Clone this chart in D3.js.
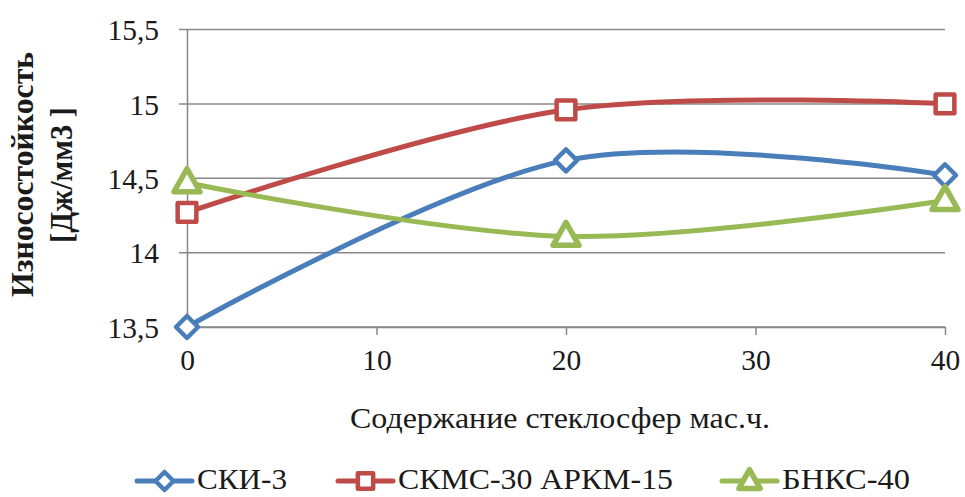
<!DOCTYPE html>
<html>
<head>
<meta charset="utf-8">
<script src="https://cdn.jsdelivr.net/npm/d3@7"></script>
<style>
  html, body { margin: 0; padding: 0; background: #fff; }
  svg { display: block; }
  svg text { font-family: 'Liberation Serif', 'Times New Roman', Times, serif; }
</style>
</head>
<body>
<svg id="chart" width="965" height="497"></svg>
<script>
// Wear resistance vs. glass microsphere content
const xValues = [0, 20, 40];
const seriesNames = ["СКИ-3", "СКМС-30 АРКМ-15", "БНКС-40"];
const seriesSki3 = [13.5, 14.62, 14.52];
const seriesSkms30 = [14.27, 14.96, 15.0];
const seriesBnks40 = [14.47, 14.11, 14.35];
const xTicks = [0, 10, 20, 30, 40];
const yTicks = [13.5, 14, 14.5, 15, 15.5];
const xTitle = "Содержание стеклосфер мас.ч.";
const yTitleLines = ["Износостойкость", "[Дж/мм3 ]"];

const colors = ["#4a7ebb", "#be4b48", "#98b954"];
const markerTypes = ["diamond", "square", "triangle"];
const allSeries = [seriesSki3, seriesSkms30, seriesBnks40];

const svg = d3.select("#chart");
const plot = { left: 187, right: 945, top: 29.5, bottom: 327 };
const serif = "'Liberation Serif', 'Times New Roman', Times, serif";

const x = d3.scaleLinear().domain([0, 40]).range([plot.left, plot.right]);
const y = d3.scaleLinear().domain([13.5, 15.5]).range([plot.bottom, plot.top]);

const gridColor = "#888888";
const textColor = "#1a1a1a";

// horizontal gridlines (with short tick stubs to the left of the axis)
svg.append("g")
  .selectAll("line")
  .data(yTicks)
  .join("line")
  .attr("x1", plot.left - 8)
  .attr("x2", plot.right)
  .attr("y1", d => y(d))
  .attr("y2", d => y(d))
  .attr("stroke", gridColor)
  .attr("stroke-width", 1.5);

// y axis
const yAxis = d3.axisLeft(y).tickValues(yTicks).tickSize(0).tickPadding(28)
  .tickFormat(d => String(d).replace(".", ","));
const gy = svg.append("g").attr("transform", `translate(${plot.left},0)`).call(yAxis)
  .attr("font-family", serif);
gy.select(".domain").attr("stroke", gridColor).attr("stroke-width", 1.5);
gy.selectAll("text")
  .attr("font-size", 29.5)
  .attr("fill", textColor)
  .attr("dy", "0.35em");

// x axis
const xAxis = d3.axisBottom(x).tickValues(xTicks).tickSizeInner(8).tickSizeOuter(0).tickPadding(14)
  .tickFormat(d3.format("d"));
const gx = svg.append("g").attr("transform", `translate(0,${plot.bottom})`).call(xAxis)
  .attr("font-family", serif);
gx.select(".domain").attr("stroke", gridColor).attr("stroke-width", 1.5);
gx.selectAll(".tick line").attr("stroke", gridColor).attr("stroke-width", 1.5);
gx.selectAll("text")
  .attr("font-size", 29.5)
  .attr("fill", textColor);

// axis titles
svg.append("text")
  .attr("x", 350)
  .attr("y", 428)
  .attr("font-size", 30)
  .attr("textLength", 420)
  .attr("lengthAdjust", "spacingAndGlyphs")
  .attr("fill", textColor)
  .text(xTitle);

const yTitle = svg.append("text")
  .attr("transform", "translate(33,0) rotate(-90)")
  .attr("font-size", 31)
  .attr("font-weight", "bold")
  .attr("fill", textColor);
yTitle.append("tspan").attr("x", -297).attr("y", 0)
  .attr("textLength", 245).attr("lengthAdjust", "spacingAndGlyphs")
  .text(yTitleLines[0]);
yTitle.append("tspan").attr("x", -243).attr("y", 39)
  .attr("textLength", 136).attr("lengthAdjust", "spacingAndGlyphs")
  .text(yTitleLines[1]);

// marker drawing
function drawMarker(g, type, cx, cy, color, s) {
  if (type === "diamond") {
    g.append("path")
      .attr("d", `M${cx},${cy - s}L${cx + s},${cy}L${cx},${cy + s}L${cx - s},${cy}Z`)
      .attr("fill", "#fff").attr("stroke", color).attr("stroke-width", 4.5)
      .attr("stroke-linejoin", "round");
  } else if (type === "square") {
    g.append("rect")
      .attr("x", cx - s * 0.85).attr("y", cy - s * 0.85)
      .attr("width", s * 1.7).attr("height", s * 1.7)
      .attr("fill", "#fff").attr("stroke", color).attr("stroke-width", 4.5)
      .attr("stroke-linejoin", "round");
  } else {
    g.append("path")
      .attr("d", `M${cx},${cy - s * 1.27}L${cx + s * 1.18},${cy + s * 0.82}L${cx - s * 1.18},${cy + s * 0.82}Z`)
      .attr("fill", "#fff").attr("stroke", color).attr("stroke-width", 5.5)
      .attr("stroke-linejoin", "round");
  }
}

// series lines (smoothed)
const line = d3.line()
  .x((d, i) => x(xValues[i]))
  .y(d => y(d))
  .curve(d3.curveCardinal.tension(0));

allSeries.forEach((vals, si) => {
  svg.append("path")
    .datum(vals)
    .attr("d", line)
    .attr("fill", "none")
    .attr("stroke", colors[si])
    .attr("stroke-width", 5)
    .attr("stroke-linecap", "round");
});

allSeries.forEach((vals, si) => {
  const g = svg.append("g");
  vals.forEach((v, i) => drawMarker(g, markerTypes[si], x(xValues[i]), y(v), colors[si], 11));
});

// legend
const legendX = [137, 338, 722];
const legendTextLen = [90, 275, 128];
const legendY = 481;
seriesNames.forEach((name, si) => {
  const g = svg.append("g");
  const lx = legendX[si];
  g.append("line")
    .attr("x1", lx).attr("x2", lx + 55)
    .attr("y1", legendY).attr("y2", legendY)
    .attr("stroke", colors[si]).attr("stroke-width", 5)
    .attr("stroke-linecap", "round");
  drawMarker(g, markerTypes[si], lx + 27.5, legendY, colors[si], 9);
  g.append("text")
    .attr("x", lx + 60)
    .attr("y", 489)
    .attr("font-size", 29)
    .attr("textLength", legendTextLen[si])
    .attr("lengthAdjust", "spacingAndGlyphs")
    .attr("fill", textColor)
    .text(name);
});
</script>
</body>
</html>
